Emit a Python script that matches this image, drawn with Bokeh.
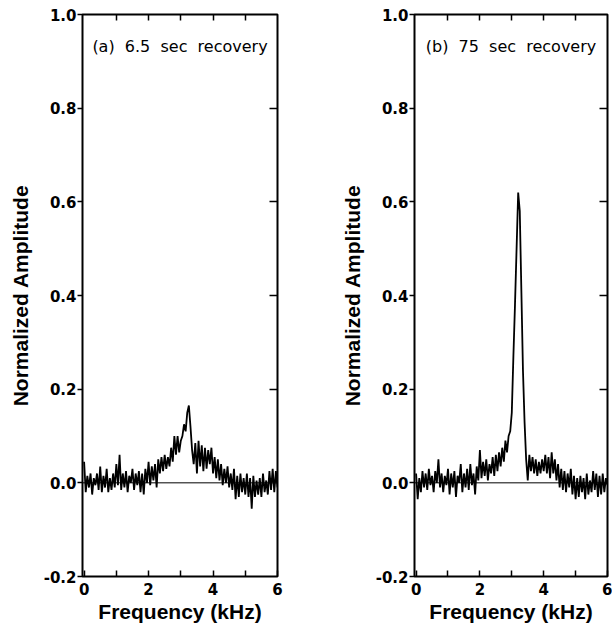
from bokeh.plotting import figure
from bokeh.models import (Range1d, LinearAxis, FixedTicker, PrintfTickFormatter, Span, Label,
                          CustomJSTickFormatter)
from bokeh.layouts import row
from bokeh.embed import file_html
from bokeh.resources import INLINE

# ---- data ----
freq_khz = [0.00, 0.05, 0.10, 0.15, 0.20, 0.25, 0.30, 0.35, 0.40, 0.45,
            0.50, 0.55, 0.60, 0.65, 0.70, 0.75, 0.80, 0.85, 0.90, 0.95,
            1.00, 1.05, 1.10, 1.15, 1.20, 1.25, 1.30, 1.35, 1.40, 1.45,
            1.50, 1.55, 1.60, 1.65, 1.70, 1.75, 1.80, 1.85, 1.90, 1.95,
            2.00, 2.05, 2.10, 2.15, 2.20, 2.25, 2.30, 2.35, 2.40, 2.45,
            2.50, 2.55, 2.60, 2.65, 2.70, 2.75, 2.80, 2.85, 2.90, 2.95,
            3.00, 3.05, 3.10, 3.15, 3.20, 3.25, 3.30, 3.35, 3.40, 3.45,
            3.50, 3.55, 3.60, 3.65, 3.70, 3.75, 3.80, 3.85, 3.90, 3.95,
            4.00, 4.05, 4.10, 4.15, 4.20, 4.25, 4.30, 4.35, 4.40, 4.45,
            4.50, 4.55, 4.60, 4.65, 4.70, 4.75, 4.80, 4.85, 4.90, 4.95,
            5.00, 5.05, 5.10, 5.15, 5.20, 5.25, 5.30, 5.35, 5.40, 5.45,
            5.50, 5.55, 5.60, 5.65, 5.70, 5.75, 5.80, 5.85, 5.90, 5.95,
            6.00]

# (a) 6.5 sec recovery
amp_a = [0.045, -0.020, 0.015, -0.010, 0.020, -0.025, 0.010, -0.005, 0.020, -0.015,
         0.035, -0.020, 0.015, -0.010, 0.030, -0.020, 0.010, -0.015, 0.020, -0.010,
         0.040, -0.005, 0.060, -0.015, 0.020, -0.010, 0.025, -0.020, 0.015, 0.000,
         0.030, -0.015, 0.020, -0.005, 0.025, -0.020, 0.020, -0.025, 0.030, 0.000,
         0.045, -0.005, 0.035, 0.005, 0.040, -0.010, 0.050, 0.020, 0.055, 0.025,
         0.060, 0.030, 0.055, 0.035, 0.075, 0.045, 0.100, 0.060, 0.100, 0.065,
         0.090, 0.100, 0.125, 0.110, 0.150, 0.165, 0.120, 0.070, 0.040, 0.085,
         0.020, 0.090, 0.035, 0.080, 0.025, 0.075, 0.030, 0.070, 0.040, 0.075,
         0.020, 0.055, 0.010, 0.050, 0.005, 0.040, -0.005, 0.030, 0.000, 0.035,
         -0.010, 0.020, -0.015, 0.030, -0.035, 0.015, -0.030, 0.020, -0.020, 0.010,
         -0.025, 0.020, -0.030, 0.010, -0.055, 0.015, -0.030, 0.005, -0.025, 0.010,
         -0.030, 0.020, -0.020, 0.005, -0.025, 0.025, -0.015, 0.030, -0.020, 0.025,
         -0.010]

# (b) 75 sec recovery
amp_b = [0.020, -0.035, 0.010, -0.020, 0.025, -0.010, 0.020, -0.015, 0.030, -0.005,
         0.015, -0.020, 0.025, 0.000, 0.050, -0.010, 0.020, -0.020, 0.015, -0.005,
         0.030, -0.025, 0.020, -0.010, 0.025, -0.030, 0.015, 0.000, 0.040, -0.020,
         0.020, -0.010, 0.030, -0.015, 0.040, -0.005, 0.020, -0.025, 0.035, 0.005,
         0.070, 0.010, 0.045, 0.015, 0.050, 0.005, 0.040, 0.020, 0.055, 0.015,
         0.060, 0.025, 0.065, 0.035, 0.075, 0.045, 0.090, 0.065, 0.100, 0.110,
         0.150, 0.270, 0.380, 0.500, 0.620, 0.580, 0.410, 0.240, 0.130, 0.050,
         0.005, 0.060, 0.025, 0.055, 0.020, 0.050, 0.015, 0.045, 0.020, 0.050,
         0.025, 0.060, 0.020, 0.055, 0.010, 0.065, 0.020, 0.050, 0.005, 0.040,
         -0.010, 0.030, -0.015, 0.025, -0.020, 0.020, -0.010, 0.030, -0.025, 0.015,
         -0.035, 0.010, -0.030, 0.015, -0.020, 0.010, -0.035, 0.020, -0.025, 0.005,
         -0.020, 0.025, -0.015, 0.020, -0.030, 0.015, -0.025, 0.020, -0.020, 0.010,
         -0.005]

y_ticks = [-0.2, 0.0, 0.2, 0.4, 0.6, 0.8, 1.0]
y_ticks_right = [0.2, 0.4, 0.6, 0.8]
x_major = [0, 2, 4, 6]
x_minor = [1, 3, 5]
x_ticks_top = [1, 2, 3, 4, 5]
panel_labels = ["(a)\u00a0 6.5\u00a0 sec\u00a0 recovery", "(b)\u00a0 75\u00a0 sec\u00a0 recovery"]
x_title = "Frequency (kHz)"
y_title = "Normalized Amplitude"

blank = "return ''"


def make_panel(amp, label, width, border_left, border_right):
    p = figure(width=width, height=627, output_backend="svg", toolbar_location=None,
               x_range=Range1d(-0.05, 6.0), y_range=Range1d(-0.2, 1.0),
               x_axis_location=None, y_axis_location=None,
               min_border_left=border_left, min_border_right=border_right,
               min_border_top=14, min_border_bottom=51)
    p.grid.visible = False
    p.outline_line_color = "black"
    p.outline_line_width = 2
    p.background_fill_color = "white"
    p.border_fill_color = "white"

    left = LinearAxis(ticker=FixedTicker(ticks=y_ticks),
                      formatter=PrintfTickFormatter(format="%.1f"),
                      axis_label=y_title,
                      axis_label_text_font="Liberation Sans",
                      axis_label_text_font_style="bold",
                      axis_label_text_font_size="21px",
                      axis_label_text_color="black",
                      axis_label_standoff=9,
                      major_label_text_font="DejaVu Sans",
                      major_label_text_font_style="bold",
                      major_label_text_font_size="15px",
                      major_label_text_color="black",
                      major_label_standoff=1,
                      major_tick_out=5, major_tick_in=0,
                      major_tick_line_width=1.5,
                      minor_tick_out=0, minor_tick_in=0,
                      axis_line_color=None)
    p.add_layout(left, "left")

    right = LinearAxis(ticker=FixedTicker(ticks=y_ticks_right),
                       formatter=CustomJSTickFormatter(code=blank),
                       major_label_standoff=0,
                       major_tick_out=0, major_tick_in=8,
                       major_tick_line_width=1.5,
                       minor_tick_out=0, minor_tick_in=0,
                       axis_line_color=None)
    p.add_layout(right, "right")

    bottom = LinearAxis(ticker=FixedTicker(ticks=x_major, minor_ticks=x_minor),
                        formatter=PrintfTickFormatter(format="%d"),
                        axis_label=x_title,
                        axis_label_text_font="Liberation Sans",
                        axis_label_text_font_style="bold",
                        axis_label_text_font_size="21px",
                        axis_label_text_color="black",
                        axis_label_standoff=2,
                        major_label_text_font="DejaVu Sans",
                        major_label_text_font_style="bold",
                        major_label_text_font_size="15px",
                        major_label_text_color="black",
                        major_label_standoff=6,
                        major_tick_out=0, major_tick_in=6,
                        minor_tick_out=0, minor_tick_in=6,
                        major_tick_line_width=1.5, minor_tick_line_width=1.5,
                        minor_tick_line_color="black",
                        axis_line_color=None)
    p.add_layout(bottom, "below")

    top = LinearAxis(ticker=FixedTicker(ticks=x_ticks_top),
                     formatter=CustomJSTickFormatter(code=blank),
                     major_label_standoff=0,
                     major_tick_out=0, major_tick_in=6,
                     major_tick_line_width=1.5,
                     minor_tick_out=0, minor_tick_in=0,
                     axis_line_color=None)
    p.add_layout(top, "above")

    p.add_layout(Span(location=0, dimension="width", line_color="black", line_width=1))
    p.line(freq_khz, amp, line_color="black", line_width=1.8)

    p.add_layout(Label(x=2.975, y=0.932, text=label, text_align="center",
                       text_baseline="alphabetic", text_font="DejaVu Sans",
                       text_font_size="16px", text_color="black"))
    return p


p1 = make_panel(amp_a, panel_labels[0], 330, 82, 53)
p2 = make_panel(amp_b, panel_labels[1], 282, 84, 5)
layout = row(p1, p2)

open("out.html", "w").write(file_html(layout, INLINE))
